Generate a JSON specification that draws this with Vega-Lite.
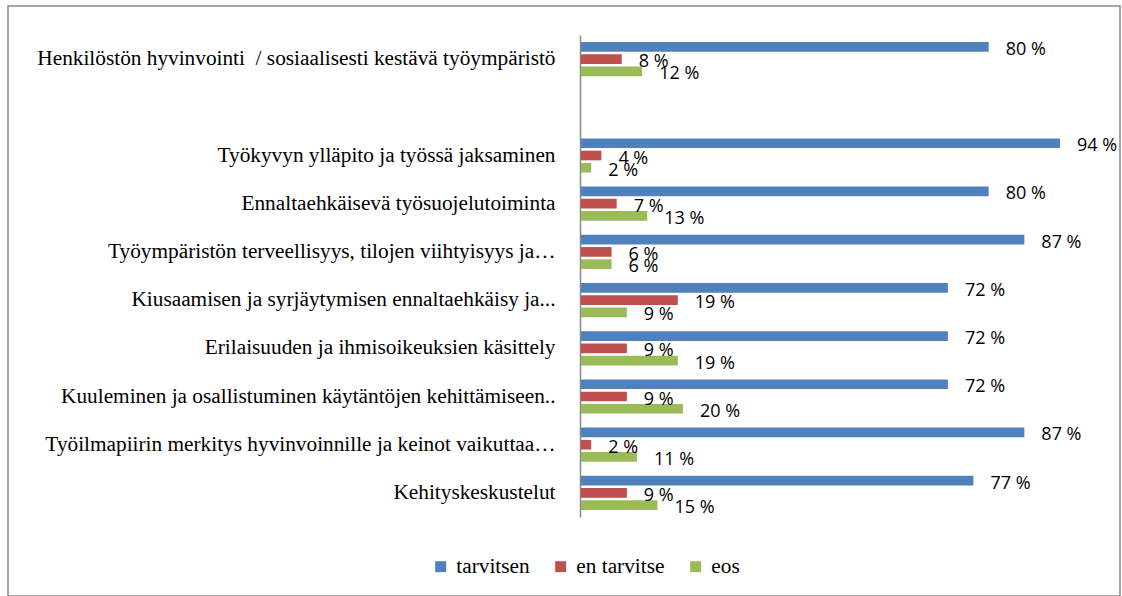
{
  "$schema": "https://vega.github.io/schema/vega-lite/v6.json",
  "width": 1112,
  "height": 590,
  "autosize": {"type": "none"},
  "padding": {"left": 8, "top": 6, "right": 2, "bottom": 0},
  "background": "white",
  "config": {
    "font": "Liberation Serif",
    "view": {"stroke": "#8a8a8a", "strokeWidth": 1.5},
    "legend": {"labelFont": "Liberation Serif", "labelFontSize": 21.3, "labelColor": "#000000"},
    "locale": {
      "number": {"decimal": ",", "thousands": " ", "grouping": [3], "currency": ["", " %"]}
    }
  },
  "data": {
    "values": [
      {"cat": "Henkilöstön hyvinvointi  / sosiaalisesti kestävä työympäristö", "resp": "tarvitsen", "v": 80},
      {"cat": "Henkilöstön hyvinvointi  / sosiaalisesti kestävä työympäristö", "resp": "en tarvitse", "v": 8},
      {"cat": "Henkilöstön hyvinvointi  / sosiaalisesti kestävä työympäristö", "resp": "eos", "v": 12},
      {"cat": "Työkyvyn ylläpito ja työssä jaksaminen", "resp": "tarvitsen", "v": 94},
      {"cat": "Työkyvyn ylläpito ja työssä jaksaminen", "resp": "en tarvitse", "v": 4},
      {"cat": "Työkyvyn ylläpito ja työssä jaksaminen", "resp": "eos", "v": 2},
      {"cat": "Ennaltaehkäisevä työsuojelutoiminta", "resp": "tarvitsen", "v": 80},
      {"cat": "Ennaltaehkäisevä työsuojelutoiminta", "resp": "en tarvitse", "v": 7},
      {"cat": "Ennaltaehkäisevä työsuojelutoiminta", "resp": "eos", "v": 13},
      {"cat": "Työympäristön terveellisyys, tilojen viihtyisyys ja…", "resp": "tarvitsen", "v": 87},
      {"cat": "Työympäristön terveellisyys, tilojen viihtyisyys ja…", "resp": "en tarvitse", "v": 6},
      {"cat": "Työympäristön terveellisyys, tilojen viihtyisyys ja…", "resp": "eos", "v": 6},
      {"cat": "Kiusaamisen ja syrjäytymisen ennaltaehkäisy ja...", "resp": "tarvitsen", "v": 72},
      {"cat": "Kiusaamisen ja syrjäytymisen ennaltaehkäisy ja...", "resp": "en tarvitse", "v": 19},
      {"cat": "Kiusaamisen ja syrjäytymisen ennaltaehkäisy ja...", "resp": "eos", "v": 9},
      {"cat": "Erilaisuuden ja ihmisoikeuksien käsittely", "resp": "tarvitsen", "v": 72},
      {"cat": "Erilaisuuden ja ihmisoikeuksien käsittely", "resp": "en tarvitse", "v": 9},
      {"cat": "Erilaisuuden ja ihmisoikeuksien käsittely", "resp": "eos", "v": 19},
      {"cat": "Kuuleminen ja osallistuminen käytäntöjen kehittämiseen..", "resp": "tarvitsen", "v": 72},
      {"cat": "Kuuleminen ja osallistuminen käytäntöjen kehittämiseen..", "resp": "en tarvitse", "v": 9},
      {"cat": "Kuuleminen ja osallistuminen käytäntöjen kehittämiseen..", "resp": "eos", "v": 20},
      {"cat": "Työilmapiirin merkitys hyvinvoinnille ja keinot vaikuttaa…", "resp": "tarvitsen", "v": 87},
      {"cat": "Työilmapiirin merkitys hyvinvoinnille ja keinot vaikuttaa…", "resp": "en tarvitse", "v": 2},
      {"cat": "Työilmapiirin merkitys hyvinvoinnille ja keinot vaikuttaa…", "resp": "eos", "v": 11},
      {"cat": "Kehityskeskustelut", "resp": "tarvitsen", "v": 77},
      {"cat": "Kehityskeskustelut", "resp": "en tarvitse", "v": 9},
      {"cat": "Kehityskeskustelut", "resp": "eos", "v": 15}
    ]
  },
  "encoding": {
    "y": {
      "field": "cat",
      "type": "nominal",
      "sort": null,
      "scale": {
        "domain": [
          "Henkilöstön hyvinvointi  / sosiaalisesti kestävä työympäristö",
          " ",
          "Työkyvyn ylläpito ja työssä jaksaminen",
          "Ennaltaehkäisevä työsuojelutoiminta",
          "Työympäristön terveellisyys, tilojen viihtyisyys ja…",
          "Kiusaamisen ja syrjäytymisen ennaltaehkäisy ja...",
          "Erilaisuuden ja ihmisoikeuksien käsittely",
          "Kuuleminen ja osallistuminen käytäntöjen kehittämiseen..",
          "Työilmapiirin merkitys hyvinvoinnille ja keinot vaikuttaa…",
          "Kehityskeskustelut"
        ],
        "range": [29, 511],
        "paddingInner": 0.29,
        "paddingOuter": 0.145
      },
      "axis": {
        "title": null,
        "offset": -572,
        "ticks": false,
        "grid": false,
        "domainColor": "#8a8a8a",
        "domainWidth": 1.5,
        "labelFont": "Liberation Serif",
        "labelFontSize": 21.3,
        "labelColor": "#000000",
        "labelPadding": 25,
        "labelLimit": 0,
        "labelExpr": "replace(datum.label, 'hyvinvointi  /', 'hyvinvointi\u00a0 /')"
      }
    },
    "yOffset": {
      "field": "resp",
      "type": "nominal",
      "sort": ["tarvitsen", "en tarvitse", "eos"],
      "scale": {"domain": ["tarvitsen", "en tarvitse", "eos"], "paddingInner": 0.21, "paddingOuter": 0}
    },
    "x": {
      "field": "v",
      "type": "quantitative",
      "scale": {"domain": [0, 100], "range": [573, 1082.6], "nice": false, "zero": true},
      "axis": null
    }
  },
  "layer": [
    {
      "mark": {"type": "bar"},
      "encoding": {
        "color": {
          "field": "resp",
          "type": "nominal",
          "scale": {"domain": ["tarvitsen", "en tarvitse", "eos"], "range": ["#4F81BD", "#C0504D", "#9BBB59"]},
          "legend": {
            "title": null,
            "orient": "none",
            "legendX": 422,
            "legendY": 550,
            "direction": "horizontal",
            "symbolType": "square",
            "symbolSize": 120,
            "symbolStrokeWidth": 0,
            "labelFont": "Liberation Serif",
            "labelFontSize": 21.3,
            "labelColor": "#000000",
            "labelOffset": 5,
            "columnPadding": 20,
            "padding": 0
          }
        }
      }
    },
    {
      "mark": {"type": "text", "align": "left", "baseline": "middle", "dx": 17, "dy": 3, "font": "Open Sans", "fontSize": 18, "color": "#000000"},
      "encoding": {
        "text": {"field": "v", "type": "quantitative", "format": "$.0f"}
      }
    }
  ]
}
